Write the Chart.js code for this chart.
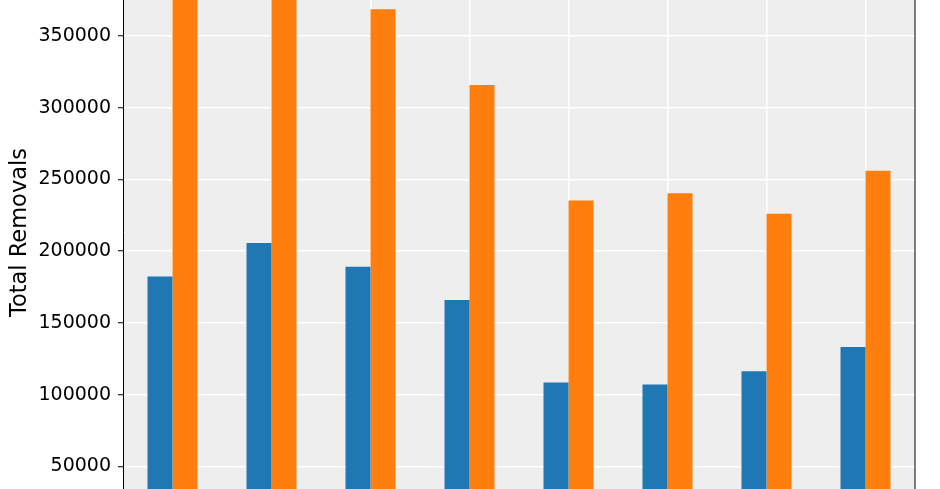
<!DOCTYPE html>
<html>
<head>
<meta charset="utf-8">
<script src="https://cdn.jsdelivr.net/npm/chart.js@4.4.1/dist/chart.umd.min.js"></script>
<style>
    html, body { margin: 0; padding: 0; background: #ffffff; overflow: hidden; width: 940px; height: 489px; }
    #wrap { position: absolute; left: 0; top: -24px; width: 940px; height: 513px; }
</style>
</head>
<body>
<div id="wrap"><canvas id="removalsChart" width="940" height="513"></canvas></div>
<script>
// fiscal years (axis labels are cut off in the picture)
var years = ['2011', '2012', '2013', '2014', '2015', '2016', '2017', '2018'];
var criminalRemovals = [182400, 205600, 189100, 165900, 108500, 107100, 116200, 133100];
var totalRemovals = [396900, 409800, 368600, 315900, 235400, 240300, 226100, 256100];
var yTicks = [50000, 100000, 150000, 200000, 250000, 300000, 350000];

// plot background + right spine
var plotFrame = {
    id: 'plotFrame',
    beforeDraw: function (chart) {
        var c = chart.ctx, a = chart.chartArea;
        c.save();
        c.fillStyle = '#eeeeee';
        c.fillRect(a.left, a.top, a.right - a.left, a.bottom - a.top);
        c.restore();
    },
    afterDraw: function (chart) {
        var c = chart.ctx, a = chart.chartArea;
        c.save();
        c.strokeStyle = '#666666';
        c.lineWidth = 1.7;
        c.beginPath();
        c.moveTo(a.right, a.top);
        c.lineTo(a.right, a.bottom);
        c.stroke();
        c.restore();
    }
};

var ctx = document.getElementById('removalsChart').getContext('2d');
new Chart(ctx, {
    type: 'bar',
    data: {
        labels: years,
        datasets: [{
            label: 'Criminal',
            data: criminalRemovals,
            backgroundColor: '#1f77b4',
            borderWidth: 0
        }, {
            label: 'Total',
            data: totalRemovals,
            backgroundColor: '#ff7f0e',
            borderWidth: 0
        }]
    },
    options: {
        responsive: false,
        animation: false,
        layout: { padding: { left: 0, right: 25, top: 0, bottom: 0 } },
        plugins: {
            legend: { display: false },
            tooltip: { enabled: false }
        },
        datasets: {
            bar: { categoryPercentage: 0.505, barPercentage: 1.0 }
        },
        scales: {
            x: {
                grid: { offset: false, color: '#ffffff', lineWidth: 1.5, drawTicks: false },
                border: { display: false },
                ticks: { display: false },
                afterFit: function (scale) {
                    scale.height = 0;
                    scale.paddingLeft = 0;
                    scale.paddingRight = 0;
                }
            },
            y: {
                min: 34170,
                max: 391840,
                afterBuildTicks: function (scale) {
                    scale.ticks = yTicks.map(function (v) { return { value: v }; });
                },
                afterFit: function (scale) {
                    scale.width = 123;
                    scale.paddingTop = 0;
                    scale.paddingBottom = 0;
                },
                grid: { color: '#ffffff', lineWidth: 1.5, tickColor: '#000000', tickLength: 5, tickWidth: 1 },
                border: { display: true, color: '#000000', width: 1 },
                ticks: {
                    padding: 7,
                    color: '#000000',
                    font: { family: 'DejaVu Sans', size: 19 },
                    callback: function (value) { return String(value); }
                },
                title: {
                    display: true,
                    text: 'Total Removals',
                    color: '#000000',
                    padding: { top: 7, bottom: 0 },
                    font: { family: 'DejaVu Sans', size: 22.5 }
                }
            }
        }
    },
    plugins: [plotFrame]
});
</script>
</body>
</html>
